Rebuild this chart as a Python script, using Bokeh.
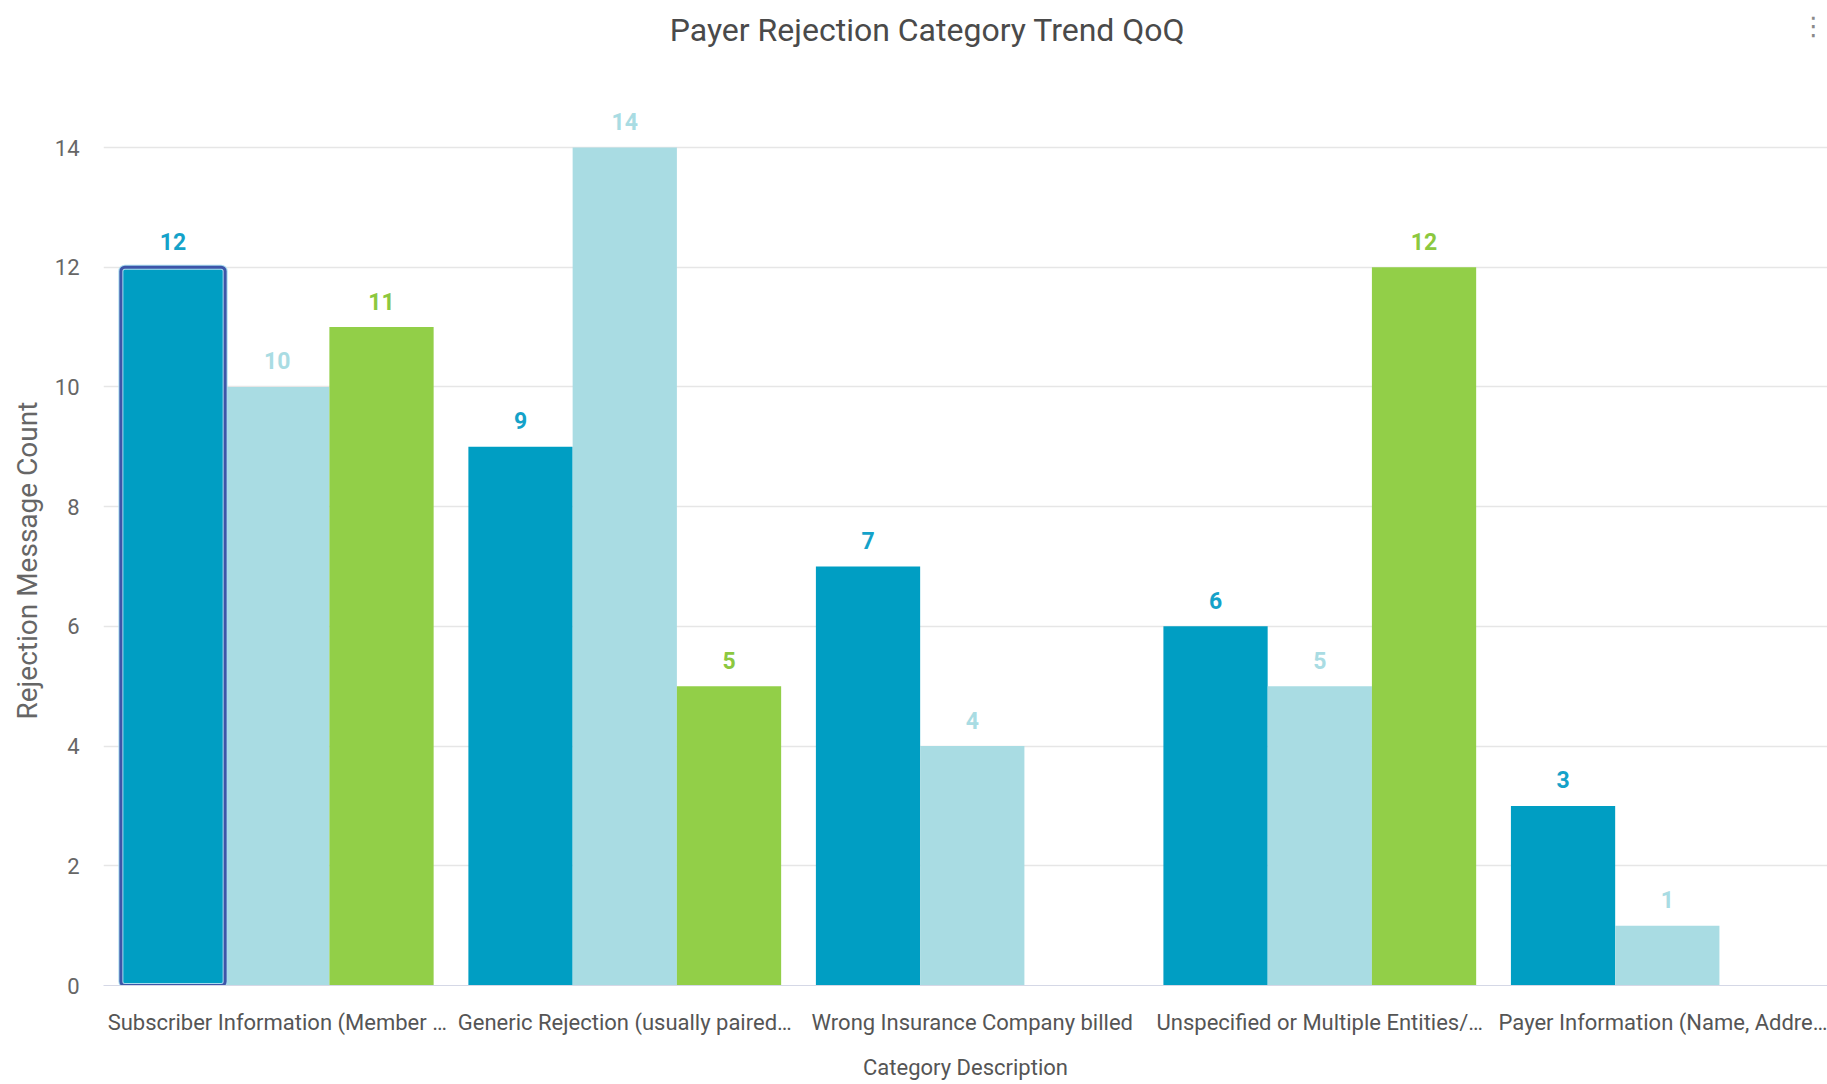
from bokeh.plotting import figure
from bokeh.models import ColumnDataSource, LabelSet, Range1d, FixedTicker, Label, Title
from bokeh.transform import dodge
from bokeh.core.properties import value
from bokeh.embed import file_html
from bokeh.resources import INLINE

# ---- data ----
categories = [
    "Subscriber Information (Member …",
    "Generic Rejection (usually paired…",
    "Wrong Insurance Company billed",
    "Unspecified or Multiple Entities/…",
    "Payer Information (Name, Addre…",
]
series_names = ["Quarter 1", "Quarter 2", "Quarter 3"]
q1_counts = [12, 9, 7, 6, 3]
q2_counts = [10, 14, 4, 5, 1]
q3_counts = [11, 5, None, 12, None]
y_ticks = [0, 2, 4, 6, 8, 10, 12, 14]

bar_colors = ["#009EC3", "#A9DCE3", "#92CF48"]
label_colors = ["#14A2C9", "#A9DCE3", "#8CC83F"]

FONT = "Roboto"

# frame spans from the very top of the canvas down to y=985 (value 0);
# value 14 sits at y=147, so the range top is 985/((985-147)/14)
y_top = 985 / ((985 - 147) / 14)

p = figure(width=1827, height=1084, output_backend="svg", toolbar_location=None,
           x_range=Range1d(-0.5, 4.461), y_range=Range1d(0, y_top),
           min_border_left=103, min_border_right=0, min_border_top=0,
           min_border_bottom=99)
p.outline_line_color = None
p.background_fill_color = "white"
p.border_fill_color = "white"

offsets = [-0.3, 0.0, 0.3]
for k, vals in enumerate([q1_counts, q2_counts, q3_counts]):
    xs = [i for i, v in enumerate(vals) if v is not None]
    ys = [v for v in vals if v is not None]
    src = ColumnDataSource(dict(x=xs, y=ys, t=[str(v) for v in ys]))
    p.vbar(x=dodge("x", offsets[k], range=p.x_range), top="y", width=0.3, bottom=0,
           source=src, fill_color=bar_colors[k], line_color=None)
    p.add_layout(LabelSet(x=dodge("x", offsets[k], range=p.x_range), y="y", text="t",
                          source=src, y_offset=26, text_align="center",
                          text_baseline="middle", text_font=value(FONT),
                          text_font_style="bold", text_font_size="23px",
                          text_color=label_colors[k]))

# highlighted (selected) first bar outline
sel = ColumnDataSource(dict(x=[0], y=[q1_counts[0]]))
p.vbar(x=dodge("x", -0.3, range=p.x_range), top="y", width=0.3, bottom=0, source=sel,
       fill_color=None, line_color="#A9DCF0", line_width=5, border_radius=4)
p.vbar(x=dodge("x", -0.3, range=p.x_range), top="y", width=0.3, bottom=0, source=sel,
       fill_color=None, line_color="#3D55A8", line_width=3, border_radius=4)

# axes
p.xaxis.ticker = FixedTicker(ticks=list(range(len(categories))))
p.xaxis.major_label_overrides = {i: c for i, c in enumerate(categories)}
p.xaxis.major_label_text_font = FONT
p.xaxis.major_label_text_font_size = "22px"
p.xaxis.major_label_text_color = "#555555"
p.xaxis.major_label_standoff = 18
p.xaxis.axis_label = "Category Description"
p.xaxis.axis_label_text_font = FONT
p.xaxis.axis_label_text_font_size = "22px"
p.xaxis.axis_label_text_font_style = "normal"
p.xaxis.axis_label_text_color = "#555555"
p.xaxis.axis_label_standoff = 17
p.xaxis.axis_line_color = "#D5D8E6"
p.xaxis.major_tick_line_color = None
p.xaxis.minor_tick_line_color = None

p.yaxis.ticker = FixedTicker(ticks=y_ticks)
p.yaxis.major_label_text_font = FONT
p.yaxis.major_label_text_font_size = "22px"
p.yaxis.major_label_text_color = "#666666"
p.yaxis.major_label_standoff = 18
p.yaxis.axis_line_color = None
p.yaxis.major_tick_line_color = None
p.yaxis.minor_tick_line_color = None

# y-axis title, centred on the 0..14 span rather than on the whole frame
ytitle = Title(text="Rejection Message Count", align="left", offset=266,
               vertical_align="bottom", standoff=15, text_font=FONT,
               text_font_size="28px", text_font_style="normal", text_color="#666666")
p.add_layout(ytitle, "left")

p.xgrid.grid_line_color = None
p.ygrid.grid_line_color = "#E6E6E6"
p.ygrid.grid_line_width = 1.5

# chart title (screen units relative to the frame: left=103, bottom=985)
p.add_layout(Label(x=927 - 103, y=985 - 29, x_units="screen", y_units="screen",
                   text="Payer Rejection Category Trend QoQ", text_font=FONT,
                   text_font_size="32px", text_color="#4A4A4A",
                   text_align="center", text_baseline="middle"))

# kebab menu
p.add_layout(Label(x=1710, y=985 - 25, x_units="screen", y_units="screen", text="⋮",
                   text_font="DejaVu Sans", text_font_size="26px", text_color="#8A8A8A",
                   text_align="center", text_baseline="middle"))

open("out.html", "w").write(file_html(p, INLINE))
